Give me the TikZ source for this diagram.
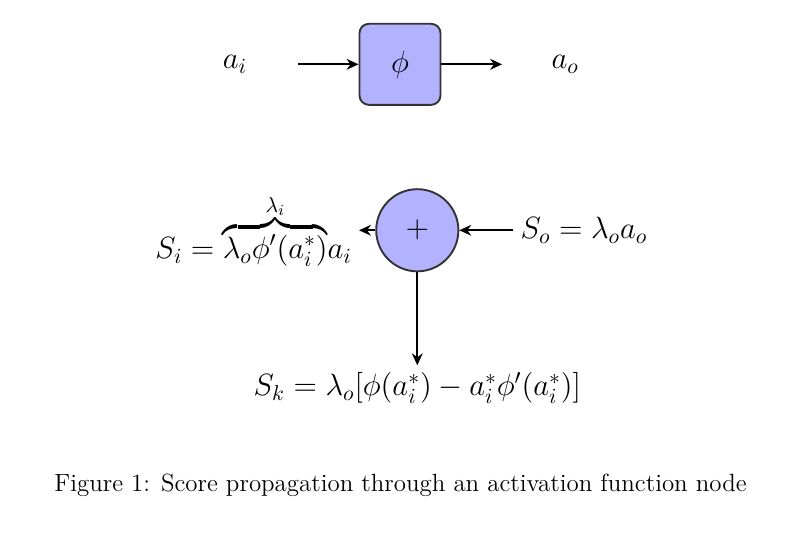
\documentclass[tikz,border=0pt]{standalone}
\usepackage{fix-cm}
\usepackage{amsmath}
\usetikzlibrary{positioning,arrows.meta}
\newcommand{\diagfont}{\fontsize{16.2}{19.5}\selectfont}
\begin{document}
\begin{tikzpicture}[>={Stealth[length=2.2mm,width=2mm]}, line width=1pt,
	op/.style={draw=black!80, fill=blue!30, font=\diagfont},
	io/.style={minimum width=2.3cm, font=\diagfont},
	score/.style={font=\diagfont}]
		\useasboundingbox (0,0) rectangle (14.8,-10.0);
		% forward pass
		\node[op, rounded corners=5pt, minimum size=1.5cm] (phi) at (7.40,-1.19) {$\phi$};
		\node[io, left=1.12cm of phi] (ai) {$a_i$};
		\node[io, right=1.12cm of phi] (ao) {$a_o$};
		\draw[->] (ai) -- (phi);
		\draw[->] (phi) -- (ao);
		% score propagation
		\node[op, circle, minimum size=1.52cm] (plus) at (7.72,-4.26) {$+$};
		\node[score, left=0.3cm of plus] (si) {$S_i = {\overbrace{\lambda_o\phi'(a_i^*)}^{\lambda_i}}a_i$};
		\node[score, right=1cm of plus] (so) {$S_o = \lambda_o a_o$};
		\node[score, below=1.72cm of plus] (sk) {$S_k = \lambda_o[\phi(a_i^*) - a_i^*\phi'(a_i^*)]$};
		\draw[->] (so) -- (plus);
		\draw[->] (plus) -- (si);
		\draw[->] (plus) -- (sk);
		\node[font=\fontsize{13.1}{15.5}\selectfont] (cap) at (7.41,-8.98) {Figure 1: Score propagation through an activation function node};
	\end{tikzpicture}
\end{document}
